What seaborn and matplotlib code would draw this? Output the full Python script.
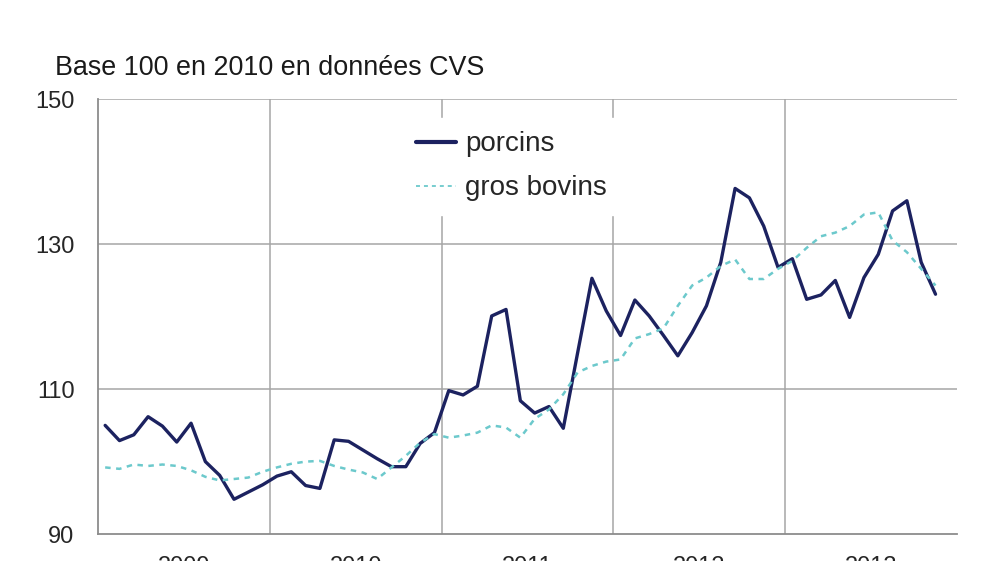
# Prix des porcins et des gros bovins, indices base 100 en 2010 (CVS)
import pandas as pd
import matplotlib
matplotlib.use("Agg")
import matplotlib.pyplot as plt
import seaborn as sns

# Monthly values, Jan 2009 -> Nov 2013
months = pd.date_range("2009-01-01", periods=59, freq="MS")
porcins = [105.0, 102.9, 103.7, 106.2, 104.9, 102.7, 105.3, 100.0, 98.1, 94.8, 95.8, 96.8,
           98.0, 98.6, 96.7, 96.3, 103.0, 102.8, 101.6, 100.4, 99.3, 99.3, 102.5, 104.0,
           109.8, 109.2, 110.4, 120.1, 121.0, 108.4, 106.7, 107.6, 104.6, 115.0, 125.3, 120.8,
           117.4, 122.3, 120.1, 117.4, 114.6, 117.8, 121.5, 127.5, 137.7, 136.4, 132.5, 126.8,
           128.0, 122.4, 123.0, 125.0, 119.9, 125.4, 128.6, 134.6, 136.0, 127.5, 123.1]
gros_bovins = [99.2, 99.0, 99.6, 99.4, 99.6, 99.4, 98.8, 97.9, 97.4, 97.6, 97.8, 98.6,
               99.2, 99.7, 100.0, 100.1, 99.4, 98.9, 98.5, 97.6, 99.2, 100.8, 102.6, 103.8,
               103.3, 103.6, 104.0, 105.0, 104.7, 103.3, 105.9, 107.2, 109.3, 112.3, 113.2, 113.8,
               114.1, 117.0, 117.6, 118.4, 121.5, 124.3, 125.4, 127.0, 127.9, 125.2, 125.2, 126.6,
               127.7, 129.5, 131.1, 131.6, 132.5, 134.1, 134.4, 130.5, 128.9, 126.6, 124.3]
years = ["2009", "2010", "2011", "2012", "2013"]
yticks = [90, 110, 130, 150]

df = pd.DataFrame({"mois": months, "porcins": porcins, "gros bovins": gros_bovins})
df["x"] = (df["mois"].dt.year - 2009) * 12 + df["mois"].dt.month - 1
long = df.melt(id_vars=["x"], value_vars=["porcins", "gros bovins"],
               var_name="serie", value_name="indice")

sns.set_style("white")
plt.rcParams["font.family"] = ["Liberation Sans", "DejaVu Sans"]

fig = plt.figure(figsize=(10, 5.61), dpi=100)
ax = fig.add_axes([0.098, 0.048, 0.859, 0.775])

grid_col = "#a6a6a6"
bov_col = "#6cc9cc"
sns.lineplot(data=long, x="x", y="indice", hue="serie", style="serie",
             palette={"porcins": "#1c2260", "gros bovins": bov_col},
             dashes={"porcins": "", "gros bovins": (2.2, 2.2)},
             linewidth=2.4, ax=ax, legend=True)
for line in ax.lines:
    if matplotlib.colors.same_color(line.get_color(), bov_col):
        line.set_linewidth(1.8)

ax.set_xlim(-0.5, 59.5)
ax.set_ylim(90, 150)
ax.set_xlabel("")
ax.set_ylabel("")

# year boundaries as major ticks, year names on minor ticks
ax.set_xticks([12 * i - 0.5 for i in range(len(years) + 1)])
ax.set_xticklabels([])
ax.set_xticks([12 * i + 5.5 for i in range(len(years))], minor=True)
ax.set_xticklabels(years, minor=True, fontsize=17)
ax.tick_params(axis="x", which="major", direction="out", length=7, width=1.1, color="#808080")
ax.tick_params(axis="x", which="minor", length=0, pad=16)

ax.set_yticks(yticks)
ax.set_yticklabels([str(v) for v in yticks], fontsize=17)
ax.tick_params(axis="y", direction="out", length=7, width=1.1, color="#808080", pad=10)

for v in yticks[1:]:
    ax.axhline(v, color=grid_col, lw=1.1, zorder=0)
for i in range(1, len(years)):
    ax.axvline(12 * i - 0.5, color=grid_col, lw=1.1, zorder=0)

for side in ["top", "right"]:
    ax.spines[side].set_visible(False)
for side in ["left", "bottom"]:
    ax.spines[side].set_color("#8c8c8c")
    ax.spines[side].set_linewidth(1.3)

leg = ax.legend(loc="upper left", bbox_to_anchor=(0.338, 0.99), frameon=True,
                fontsize=20, handlelength=1.45, handletextpad=0.3, labelspacing=0.65,
                borderpad=0.5)
leg.get_frame().set_facecolor("white")
leg.get_frame().set_edgecolor("white")
leg.get_frame().set_alpha(1)
for h in leg.get_lines():
    if matplotlib.colors.same_color(h.get_color(), bov_col):
        h.set_linewidth(1.3)
    else:
        h.set_linewidth(3.0)

fig.text(0.055, 1 - 75 / 561, "Base 100 en 2010 en données CVS", fontsize=19.4,
         color="#1a1a1a", va="baseline", ha="left")

fig.savefig("out.png", dpi=100, facecolor="white")
